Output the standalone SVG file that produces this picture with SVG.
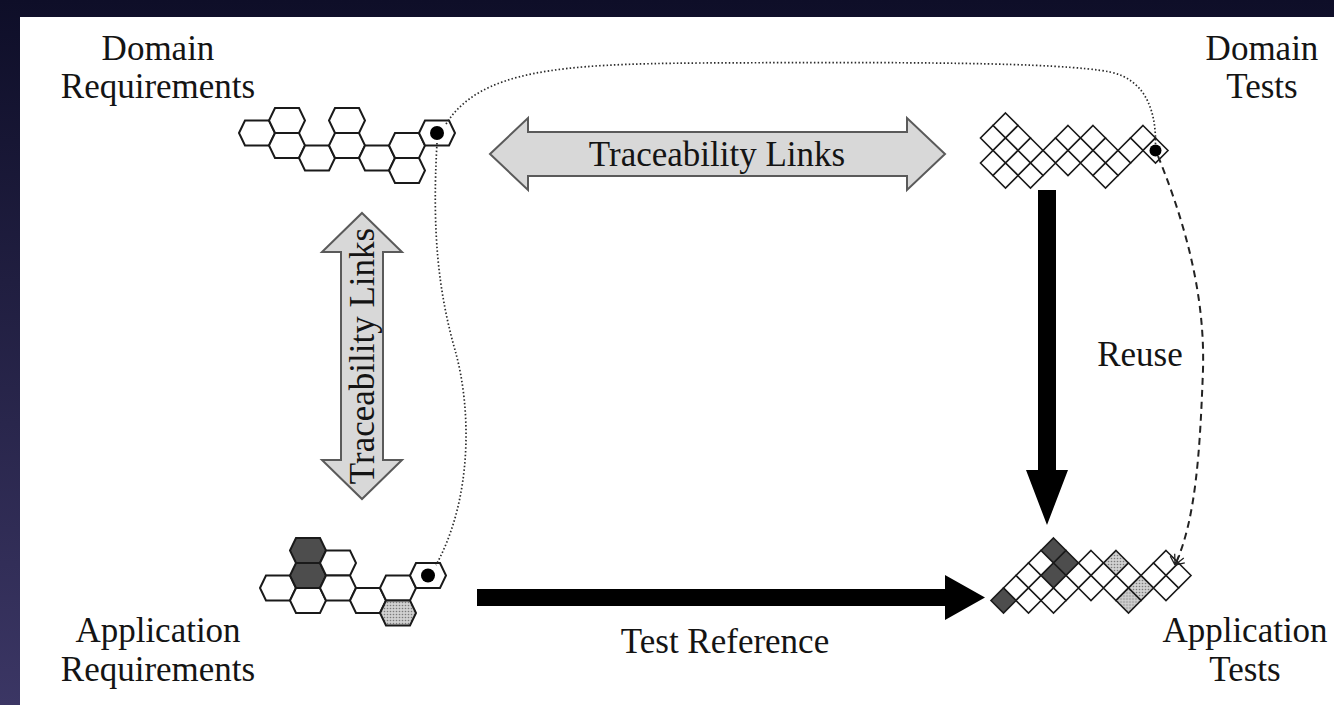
<svg xmlns="http://www.w3.org/2000/svg" xmlns:xlink="http://www.w3.org/1999/xlink" width="1334" height="705" viewBox="0 0 1334 705">
  <defs>
    <linearGradient id="bg" x1="0" y1="0" x2="0" y2="1">
      <stop offset="0" stop-color="#0e0e28"/>
      <stop offset="1" stop-color="#3b3664"/>
    </linearGradient>
    <pattern id="stipple" width="3" height="3" patternUnits="userSpaceOnUse">
      <rect width="3" height="3" fill="#d0d0d0"/>
      <circle cx="1.5" cy="1.5" r="0.8" fill="#7a7a7a"/>
    </pattern>
    <!-- flat-top hexagon cell -->
    <path id="hx" d="M-18,0 L-12,-12.5 L12,-12.5 L18,0 L12,12.5 L-12,12.5 Z"/>
    <!-- diamond cell -->
    <path id="dm" d="M0,-12.5 L12.5,0 L0,12.5 L-12.5,0 Z"/>
    <marker id="star" viewBox="-12 -9 14 18" refX="0" refY="0" markerWidth="14" markerHeight="18" orient="auto" markerUnits="userSpaceOnUse">
      <path d="M0,0 L-10,-5 M0,0 L-10,5 M0,0 L-11,0 M0,0 L-6,-8 M0,0 L-6,8" fill="none" stroke="#222" stroke-width="1.3"/>
    </marker>
    <style>
      .hex use { fill: #fff; stroke: #1a1a1a; stroke-width: 2; }
      use.dc { fill: #fff; stroke: #1a1a1a; stroke-width: 1.6; }
      .dark { fill: #4d4d4d !important; }
      .grey { fill: url(#stipple) !important; }
      .lbl { font-family: "Liberation Serif", "Times New Roman", serif; font-size: 35px; fill: #141414; text-anchor: middle; }
      .dbl { fill: #d8d8d8; stroke: #5a5a5a; stroke-width: 2; stroke-linejoin: miter; }
      .solid { fill: #000; }
      .dotted { fill: none; stroke: #2a2a2a; stroke-width: 1.7; stroke-dasharray: 1.5 2.2; }
      .dashed { fill: none; stroke: #222; stroke-width: 2; stroke-dasharray: 7 5; }
    </style>
  </defs>

  <!-- slide backdrop and white sheet -->
  <rect width="1334" height="705" fill="url(#bg)"/>
  <rect x="20" y="17" width="1314" height="688" fill="#fff"/>

  <!-- Domain Requirements -->
  <g id="domain-requirements">
    <text class="lbl" x="158" y="60">Domain</text>
    <text class="lbl" x="158" y="98">Requirements</text>
    <g class="hex">
      <use href="#hx" x="257" y="133"/>
      <use href="#hx" x="287" y="120.5"/>
      <use href="#hx" x="287" y="145.5"/>
      <use href="#hx" x="317" y="158"/>
      <use href="#hx" x="347" y="120.5"/>
      <use href="#hx" x="347" y="145.5"/>
      <use href="#hx" x="377" y="158"/>
      <use href="#hx" x="407" y="145.5"/>
      <use href="#hx" x="407" y="170.5"/>
      <use href="#hx" x="437" y="133"/>
    </g>
    <circle cx="437" cy="133" r="7" fill="#000"/>
  </g>

  <!-- Application Requirements -->
  <g id="application-requirements">
    <text class="lbl" x="158" y="642">Application</text>
    <text class="lbl" x="158" y="681">Requirements</text>
    <g class="hex">
      <use href="#hx" x="278" y="588"/>
      <use href="#hx" x="308" y="550.5" class="dark"/>
      <use href="#hx" x="308" y="575.5" class="dark"/>
      <use href="#hx" x="308" y="600.5"/>
      <use href="#hx" x="338" y="563"/>
      <use href="#hx" x="338" y="588"/>
      <use href="#hx" x="368" y="600.5"/>
      <use href="#hx" x="398" y="588"/>
      <use href="#hx" x="398" y="613" class="grey"/>
      <use href="#hx" x="428" y="575.5"/>
    </g>
    <circle cx="428" cy="575.5" r="7" fill="#000"/>
  </g>

  <!-- Domain Tests -->
  <g id="domain-tests">
    <text class="lbl" x="1262" y="60">Domain</text>
    <text class="lbl" x="1262" y="98">Tests</text>
    <g>
      <use class="dc" href="#dm" x="1005.5" y="125.5"/>
      <use class="dc" href="#dm" x="993" y="138"/>
      <use class="dc" href="#dm" x="1018" y="138"/>
      <use class="dc" href="#dm" x="1068" y="138"/>
      <use class="dc" href="#dm" x="1093" y="138"/>
      <use class="dc" href="#dm" x="1143" y="138"/>
      <use class="dc" href="#dm" x="1005.5" y="150.5"/>
      <use class="dc" href="#dm" x="1030.5" y="150.5"/>
      <use class="dc" href="#dm" x="1055.5" y="150.5"/>
      <use class="dc" href="#dm" x="1080.5" y="150.5"/>
      <use class="dc" href="#dm" x="1105.5" y="150.5"/>
      <use class="dc" href="#dm" x="1130.5" y="150.5"/>
      <use class="dc" href="#dm" x="1155.5" y="150.5"/>
      <use class="dc" href="#dm" x="993" y="163"/>
      <use class="dc" href="#dm" x="1018" y="163"/>
      <use class="dc" href="#dm" x="1043" y="163"/>
      <use class="dc" href="#dm" x="1068" y="163"/>
      <use class="dc" href="#dm" x="1093" y="163"/>
      <use class="dc" href="#dm" x="1118" y="163"/>
      <use class="dc" href="#dm" x="1005.5" y="175.5"/>
      <use class="dc" href="#dm" x="1030.5" y="175.5"/>
      <use class="dc" href="#dm" x="1105.5" y="175.5"/>
    </g>
    <circle cx="1155.5" cy="150.5" r="6" fill="#000"/>
  </g>

  <!-- Application Tests -->
  <g id="application-tests">
    <text class="lbl" x="1245" y="642">Application</text>
    <text class="lbl" x="1245" y="681">Tests</text>
    <g transform="translate(6,0)">
      <use class="dc dark" href="#dm" x="1047.5" y="550.5"/>
      <use class="dc" href="#dm" x="1035" y="563"/>
      <use class="dc dark" href="#dm" x="1060" y="563"/>
      <use class="dc" href="#dm" x="1085" y="563"/>
      <use class="dc grey" href="#dm" x="1110" y="563"/>
      <use class="dc" href="#dm" x="1160" y="563"/>
      <use class="dc" href="#dm" x="1022.5" y="575.5"/>
      <use class="dc dark" href="#dm" x="1047.5" y="575.5"/>
      <use class="dc" href="#dm" x="1072.5" y="575.5"/>
      <use class="dc" href="#dm" x="1097.5" y="575.5"/>
      <use class="dc" href="#dm" x="1122.5" y="575.5"/>
      <use class="dc" href="#dm" x="1147.5" y="575.5"/>
      <use class="dc" href="#dm" x="1172.5" y="575.5"/>
      <use class="dc" href="#dm" x="1010" y="588"/>
      <use class="dc" href="#dm" x="1035" y="588"/>
      <use class="dc" href="#dm" x="1060" y="588"/>
      <use class="dc" href="#dm" x="1085" y="588"/>
      <use class="dc" href="#dm" x="1110" y="588"/>
      <use class="dc grey" href="#dm" x="1135" y="588"/>
      <use class="dc" href="#dm" x="1160" y="588"/>
      <use class="dc dark" href="#dm" x="997.5" y="600.5"/>
      <use class="dc" href="#dm" x="1022.5" y="600.5"/>
      <use class="dc" href="#dm" x="1047.5" y="600.5"/>
      <use class="dc grey" href="#dm" x="1122.5" y="600.5"/>
    </g>
  </g>

  <!-- connectors -->
  <g id="connectors">
    <!-- traceability, horizontal -->
    <path class="dbl" d="M490,154 L528,118 L528,132 L907,132 L907,118 L945,154 L907,190 L907,176 L528,176 L528,190 Z"/>
    <text class="lbl" x="717" y="166">Traceability Links</text>
    <!-- traceability, vertical -->
    <path class="dbl" d="M362,213 L402,252 L383,252 L383,460 L402,460 L362,499 L322,460 L341,460 L341,252 L322,252 Z"/>
    <text class="lbl" transform="translate(374,356) rotate(-90)" x="0" y="0">Traceability Links</text>
    <!-- reuse -->
    <path class="solid" d="M1038,190 L1056,190 L1056,470 L1068,470 L1047,525 L1026,470 L1038,470 Z"/>
    <text class="lbl" x="1140" y="366">Reuse</text>
    <!-- test reference -->
    <path class="solid" d="M477,589 L945,589 L945,575 L985,597.5 L945,620 L945,606 L477,606 Z"/>
    <text class="lbl" x="725" y="653">Test Reference</text>
    <!-- dotted trace lines -->
    <path class="dotted" d="M446,124 C480,70 560,64 700,63 C900,62 1060,62 1110,72 C1148,80 1156,115 1155.5,144"/>
    <path class="dotted" d="M437,143 C432,230 438,290 455,350 C472,410 472,500 436,565"/>
    <!-- dashed derivation line -->
    <path class="dashed" marker-end="url(#star)" d="M1158,156 C1188,230 1205,300 1203,370 C1200,450 1196,520 1175,565"/>
  </g>
</svg>
